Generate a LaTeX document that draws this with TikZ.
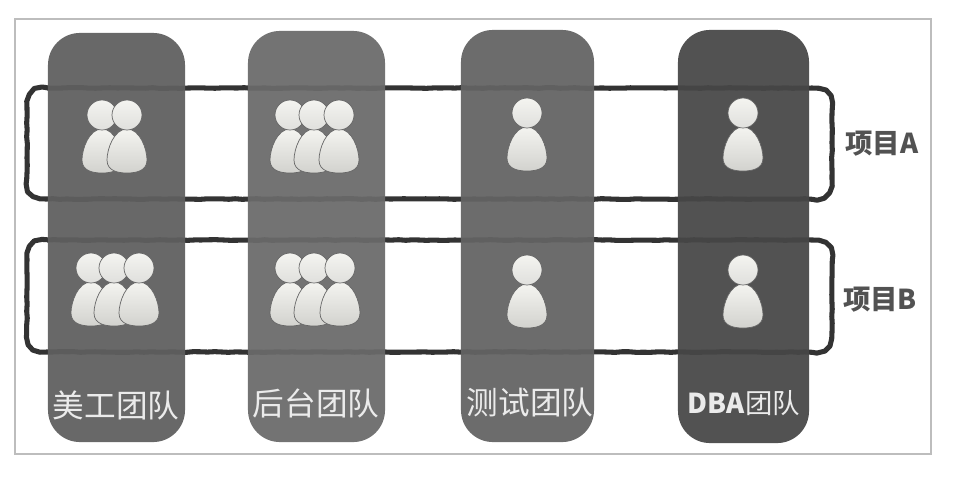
\documentclass[tikz,border=0pt]{standalone}
\usepackage{fontspec}
\setmainfont{Noto Sans CJK SC}
\usepackage{tikz}
\usetikzlibrary{decorations.pathmorphing}

\definecolor{framegray}{HTML}{BDBDBD}
\definecolor{loopdark}{HTML}{333333}
\definecolor{teamA}{HTML}{5F5F5F}
\definecolor{teamB}{HTML}{6A6A6A}
\definecolor{teamC}{HTML}{636363}
\definecolor{teamD}{HTML}{474747}
\definecolor{bodylight}{HTML}{F4F4F0}
\definecolor{bodyshade}{HTML}{D2D2CE}

\tikzset{
    team/.style={rounded corners=0.8cm, fill opacity=0.94, inner sep=0pt, minimum width=3.425cm},
    projloop/.style={draw=loopdark, line width=3.6pt, line join=round,
        decorate, decoration={random steps, segment length=5pt, amplitude=0.25pt}},
    teamlabel/.style={text=white!92!black, font=\fontsize{22.5}{22.5}\selectfont, inner sep=0pt},
    projlabel/.style={text=black!68, font=\fontsize{19.5}{19.5}\selectfont\bfseries, inner sep=0pt},
    person/.pic={
        \draw[draw=black!60, line width=0.5pt, top color=bodylight, bottom color=bodyshade]
            (0,14) .. controls (-13,14) and (-20,34) .. (-20,45)
            .. controls (-20,56) and (-9,58) .. (0,58)
            .. controls (9,58) and (20,56) .. (20,45)
            .. controls (20,34) and (13,14) .. (0,14) -- cycle;
        \draw[draw=black!60, line width=0.5pt, top color=bodylight, bottom color=bodyshade!70!white]
            (0,0) circle (15);
    }
}

\begin{document}
\begin{tikzpicture}[x=0.025cm, y=-0.025cm]
    \useasboundingbox (0,0) rectangle (960,482);

    \draw[framegray, line width=0.8pt] (15,19) rectangle (931,454);

    % the two projects run behind the teams
    \draw[projloop] (47,88) -- (812,88) .. controls (826,88) and (832,94) .. (832,108)
        -- (832,179) .. controls (832,193) and (826,199) .. (812,199)
        -- (47,199) .. controls (33,199) and (27,193) .. (27,179)
        -- (27,108) .. controls (27,94) and (33,88) .. (47,88) -- cycle;
    \draw[projloop] (47,240) -- (812,240) .. controls (826,240) and (832,246) .. (832,260)
        -- (832,332) .. controls (832,346) and (826,352) .. (812,352)
        -- (47,352) .. controls (33,352) and (27,346) .. (27,332)
        -- (27,260) .. controls (27,246) and (33,240) .. (47,240) -- cycle;

    \node (meigong) [team, fill=teamA, minimum height=10.225cm] at (116.5,237.5) {};
    \node (houtai) [team, fill=teamB, minimum height=10.275cm] at (316.5,236.5) {};
    \node (ceshi) [team, fill=teamC, minimum width=3.325cm, minimum height=10.3cm] at (527.5,236) {};
    \node (dba) [team, fill=teamD, minimum width=3.275cm, minimum height=10.325cm] at (743.5,236.5) {};

    % project A
    \foreach \x in {102,127}
        \pic at (\x,115) {person};
    \foreach \x in {290,314,339}
        \pic at (\x,115) {person};
    \pic at (527,113) {person};
    \pic at (743,113) {person};

    % project B
    \foreach \x in {91,114,139}
        \pic at (\x,268) {person};
    \foreach \x in {290,314,340}
        \pic at (\x,268) {person};
    \pic at (527,270) {person};
    \pic at (743,270) {person};

    \node (meigonglabel) [teamlabel] at (116,405) {美工团队};
    \node (houtailabel) [teamlabel] at (316,403) {后台团队};
    \node (ceshilabel) [teamlabel] at (530,403) {测试团队};
    \node (dbalabel) [teamlabel, font=\fontsize{19.5}{19.5}\selectfont] at (744,403) {\textbf{DBA}团队};

    \node (proja) [projlabel] at (882,144) {项目A};
    \node (projb) [projlabel] at (880,300) {项目B};
\end{tikzpicture}
\end{document}
